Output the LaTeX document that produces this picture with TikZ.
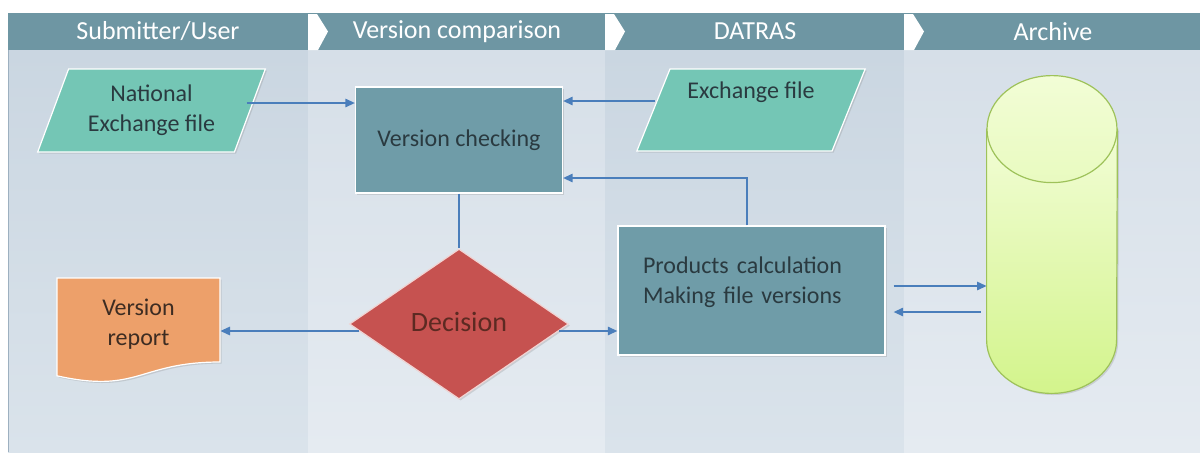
\documentclass[tikz,border=0pt]{standalone}
\usepackage{fontspec}
\setmainfont{Carlito}
\usepackage{xcolor}
\usepackage{tikz}
\usetikzlibrary{shadows}
\usetikzlibrary{positioning}
\usetikzlibrary{arrows.meta,shapes}
\usetikzlibrary{shapes.geometric}
\usetikzlibrary{calc}
\definecolor{bandcol}{HTML}{6E96A3}
\definecolor{lanedark}{HTML}{CAD6E1}
\definecolor{lanedarkb}{HTML}{DAE3EB}
\definecolor{lanelight}{HTML}{D6DFE8}
\definecolor{lanelightb}{HTML}{E5EBF1}
\definecolor{lanerule}{HTML}{9DB0C0}
\definecolor{filecol}{HTML}{74C6B5}
\definecolor{proccol}{HTML}{6F9CA8}
\definecolor{deccol}{HTML}{C65250}
\definecolor{dectext}{HTML}{5C2A22}
\definecolor{repcol}{HTML}{EDA06A}
\definecolor{reptext}{HTML}{3D2C22}
\definecolor{cyltop}{HTML}{F2FDD6}
\definecolor{cylbot}{HTML}{D3F48C}
\definecolor{cyledge}{HTML}{9EC25A}
\definecolor{flowcol}{HTML}{4A7EBB}
\definecolor{inktext}{HTML}{2A3A40}
\tikzstyle{shadowed}=[drop shadow={opacity=0.25,shadow xshift=0.8pt,shadow yshift=-0.8pt}]
\tikzstyle{lanehead}=[font=\fontsize{13}{15}\selectfont,text=white,inner sep=0pt]
\tikzstyle{process}=[rectangle,draw=white,line width=0.6pt,fill=proccol,text=inktext,font=\fontsize{12}{15}\selectfont,inner sep=0pt,shadowed]
\tikzstyle{datafile}=[trapezium,trapezium left angle=65,trapezium right angle=115,trapezium stretches=true,draw=white,line width=0.6pt,fill=filecol,text=inktext,align=center,font=\fontsize{12}{15}\selectfont,inner sep=0pt,shadowed]
\tikzstyle{decision}=[diamond,draw=white!75!deccol,line width=0.6pt,fill=deccol,text=dectext,font=\fontsize{14}{16}\selectfont,inner sep=0pt,minimum width=109.5pt,minimum height=75pt,shadowed]
\tikzstyle{docshape}=[fill=repcol,draw=white,line width=0.6pt,shadowed]
\tikzstyle{doctext}=[rectangle,text=reptext,align=center,font=\fontsize{12}{15}\selectfont,inner sep=0pt]
\tikzstyle{archive}=[rectangle,inner sep=0pt,minimum width=65pt,minimum height=158.5pt]
\tikzstyle{cylpart}=[draw=cyledge,line width=0.6pt]
\tikzstyle{edge} = [draw,flowcol,line width=0.85pt,->,>={Triangle[length=4.8pt,width=4.2pt]}]
\tikzstyle{undirectededge} = [draw,flowcol,line width=0.85pt]

\begin{document}
\begin{tikzpicture}[x=0.5pt,y=-0.5pt]

  \useasboundingbox (0,0) rectangle (1200,452);
  \fill[white] (0,0) rectangle (1200,452);

  % lanes and header band
  \foreach \x/\w/\col/\colb in {8/300/lanedark/lanedarkb, 308/297/lanelight/lanelightb, 605/299/lanedark/lanedarkb, 904/296/lanelight/lanelightb}
    \shade[top color=\col, bottom color=\colb] (\x,50) rectangle ++(\w,402);
  \draw[lanerule, line width=0.5pt] (8.5,13) -- (8.5,452);
  \fill[bandcol] (8,13) rectangle (1200,50);
  \foreach \x in {308,605,904}
    \fill[white] (\x,14) -- ++(9,0) -- ++(11,17.5) -- ++(-10,18.5) -- ++(-10,0) -- cycle;

  \foreach \x/\name/\label in {158/hsub/{Submitter/User}, 457/hver/{Version comparison}, 755/hdat/DATRAS, 1053/harc/Archive}
    \node[lanehead] (\name) at (\x,31.5) {\label};

  % shapes
  \node[datafile, minimum width=114.5pt, minimum height=41.5pt] (natfile) at (151.5,110.5) {National\\Exchange file};
  \node[datafile, minimum width=115pt, minimum height=41pt] (exchfile) at (751,110) {Exchange file\\\strut};
  \node[process, minimum width=103.5pt, minimum height=53pt] (vcheck) at (459,140) {\raisebox{-1.75pt}{Version checking}};
  \node[process, minimum width=133.5pt, minimum height=64.5pt, text width=108.5pt, inner xsep=12.5pt, align=left] (products) at (751.5,290.5) {Products calculation\\Making file versions\\[-9pt]\strut};
  \node[decision] (decision) at (459,324) {\raisebox{2pt}{Decision}};

  % archive drum
  \node[archive] (archive) at (1052,234.5) {};
  \path[cylpart, top color=cyltop, bottom color=cylbot, shadowed] ($(archive.north west)+(0,53.5)$) -- ($(archive.south west)+(0,-53.5)$)
     arc[start angle=180, end angle=360, x radius=32.5pt, y radius=26.75pt] -- ($(archive.north east)+(0,53.5)$) -- cycle;
  \path[cylpart, top color=cyltop, bottom color=cyltop!70!cylbot] ($(archive.north)+(0,53.5)$) ellipse [x radius=32.5pt, y radius=26.75pt];

  \coordinate (repc) at (138.5,320);
  \path[docshape] ($(repc)+(-81.5,-42)$) -- ($(repc)+(81.5,-42)$) -- ($(repc)+(81.5,42)$)
     .. controls ($(repc)+(0,42)$) and ($(repc)+(0,74)$) .. ($(repc)+(-81.5,55.8)$) -- cycle;
  \node[doctext, minimum width=81.5pt, minimum height=42pt] (report) at ($(repc)+(0,4)$) {Version\\report};

  % connectors
  \coordinate (natout) at ($(natfile.east)+(-4,-7.5)$);
  \coordinate (exchout) at ($(exchfile.west)+(2,-9)$);
  \coordinate (prodout) at ($(products.east)+(8,-4.5)$);
  \coordinate (archout) at ($(archive.west)+(-6,77.5)$);

  \foreach \source/ \dest in {natout/vcheck.west, exchout/vcheck.east, prodout/archive.west, decision.356/products.west, decision.184/report.east}
    \path[edge] (\source) -- (\source -| \dest);
  \path[edge] (archout) -- ($(archout -| products.east)+(8,0)$);
  \path[edge] ($(products.north)+(-4.5,0)$) |- ($(vcheck.east)+(0,38)$);
  \path[undirectededge] (vcheck.south) -- (decision.north);

\end{tikzpicture}
\end{document}
